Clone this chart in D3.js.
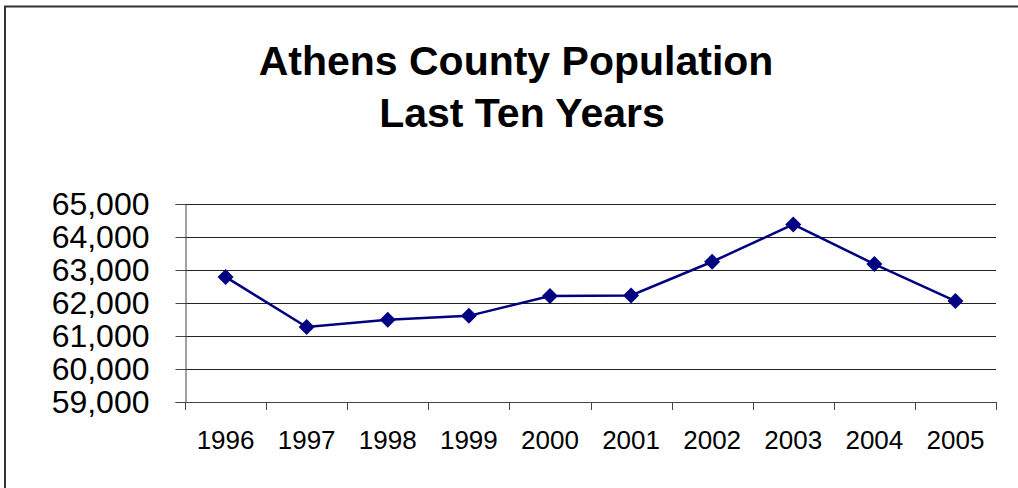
<!DOCTYPE html>
<html>
<head>
<meta charset="utf-8">
<script src="https://cdn.jsdelivr.net/npm/d3@7"></script>
<style>
  html, body { margin: 0; padding: 0; background: #fff; }
  svg { display: block; }
  text { font-family: "Liberation Sans", Arial, sans-serif; fill: #000; }
</style>
</head>
<body>
<svg id="chart" width="1018" height="488"></svg>
<script>
const years = ["1996","1997","1998","1999","2000","2001","2002","2003","2004","2005"];
const population = [62790, 61270, 61490, 61610, 62210, 62230, 63250, 64380, 63180, 62060];
const yTicks = [59000, 60000, 61000, 62000, 63000, 64000, 65000];
const titleLines = ["Athens County Population", "Last Ten Years"];

const svg = d3.select("#chart");
const W = 1018, H = 488;
const m = { left: 185, right: 996, top: 204, bottom: 402 };

// outer chart border (extends beyond right/bottom edges)
svg.append("rect")
  .attr("x", 5).attr("y", 6.5)
  .attr("width", W + 20).attr("height", H + 20)
  .attr("fill", "none").attr("stroke", "#333").attr("stroke-width", 2);

// title
svg.append("text").attr("x", 516).attr("y", 75)
  .attr("text-anchor", "middle").attr("font-size", 41).attr("font-weight", "bold")
  .text(titleLines[0]);
svg.append("text").attr("x", 522).attr("y", 127)
  .attr("text-anchor", "middle").attr("font-size", 41).attr("font-weight", "bold")
  .text(titleLines[1]);

const x = d3.scaleBand().domain(years).range([m.left, m.right]).padding(0);
const y = d3.scaleLinear().domain([59000, 65000]).range([m.bottom, m.top]);

// gridlines
svg.append("g").selectAll("line").data(yTicks.filter(d => d !== 59000)).join("line")
  .attr("x1", m.left).attr("x2", m.right)
  .attr("y1", d => Math.round(y(d)) + 0.5).attr("y2", d => Math.round(y(d)) + 0.5)
  .attr("stroke", "#222").attr("stroke-width", 1);

// y axis
const yAxis = svg.append("g")
  .attr("transform", `translate(${m.left + 0.5},0)`)
  .call(d3.axisLeft(y).tickValues(yTicks).tickSize(10).tickPadding(26)
    .tickFormat(d3.format(",")));
yAxis.selectAll("path, line").attr("stroke", "#444");
yAxis.selectAll("text").attr("font-size", 32).attr("font-family", "'Liberation Sans', Arial, sans-serif").attr("fill", "#000");

// x axis
const xAxis = svg.append("g")
  .attr("transform", `translate(0,${m.bottom + 0.5})`)
  .call(d3.axisBottom(x).tickSize(0).tickPadding(0).tickFormat(d => d));
xAxis.select("path").attr("stroke", "#444").attr("d", `M${m.left},0H${m.right}`);
xAxis.selectAll("text").attr("font-size", 26).attr("font-family", "'Liberation Sans', Arial, sans-serif")
  .attr("fill", "#000").attr("dy", null).attr("y", 46);

// x tick marks at band boundaries
const bounds = years.map(d => x(d)).concat([m.right]);
svg.append("g").selectAll("line").data(bounds).join("line")
  .attr("x1", d => Math.round(d) + 0.5).attr("x2", d => Math.round(d) + 0.5)
  .attr("y1", m.bottom).attr("y2", m.bottom + 8)
  .attr("stroke", "#444").attr("stroke-width", 1);

// line
const cx = d => x(d) + x.bandwidth() / 2;
svg.append("path")
  .datum(years.map((d, i) => [cx(d), y(population[i])]))
  .attr("fill", "none").attr("stroke", "#000080").attr("stroke-width", 2.5)
  .attr("d", d3.line());

// diamond markers
svg.append("g").selectAll("path").data(years).join("path")
  .attr("transform", (d, i) => `translate(${cx(d)},${y(population[i])})`)
  .attr("d", "M0,-8L8,0L0,8L-8,0Z")
  .attr("fill", "#000080");
</script>
</body>
</html>
